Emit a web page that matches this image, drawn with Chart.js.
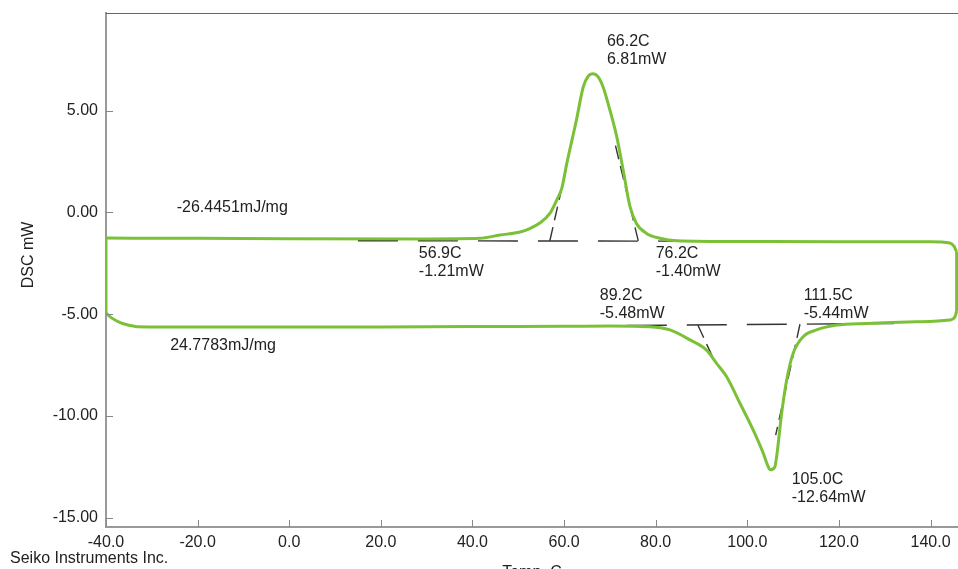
<!DOCTYPE html>
<html>
<head>
<meta charset="utf-8">
<script src="https://cdn.jsdelivr.net/npm/chart.js@4/dist/chart.umd.min.js"></script>
<style>
  body { margin: 0; background: #fff; }
  #wrap { width: 958px; height: 569px; }
</style>
</head>
<body>
<div id="wrap"><canvas id="dscCanvas" width="958" height="569"></canvas></div>
<script>
//Heating run (lower trace), read left to right
const heatTemp = [-40, -38.7, -36.9, -34.8, -33.2, -20, 0, 20, 40, 60, 70, 78.7, 83.1, 87.5, 91.1, 93.3, 95.5, 98.4, 101.3, 103.5, 104.5, 105.0, 106.0, 106.4, 107.5, 108.6, 110.0, 112.2, 115.1, 119.5, 126.0, 136.9, 144.2, 145.3, 145.7]
const heatDsc = [-4.95, -5.19, -5.41, -5.55, -5.61, -5.63, -5.63, -5.62, -5.60, -5.59, -5.58, -5.61, -5.77, -6.26, -6.76, -7.41, -8.07, -9.37, -10.69, -11.83, -12.45, -12.64, -12.5, -12.0, -9.86, -8.23, -6.92, -6.10, -5.77, -5.53, -5.45, -5.37, -5.28, -5.14, -4.84]

//Cooling run (upper trace), read right to left
const coolTemp = [145.7, 145.1, 144.2, 140, 120, 100, 84.6, 80.9, 78.0, 75.8, 74.4, 72.9, 71.5, 70.0, 68.5, 67.4, 66.2, 65.3, 64.2, 62.7, 60.6, 59.5, 58.4, 56.9, 54.7, 52.5, 50.4, 46.0, 41.6, 30, 0, -20, -40]
const coolDsc = [-1.94, -1.65, -1.50, -1.44, -1.44, -1.43, -1.39, -1.27, -1.03, -0.54, 0.28, 2.08, 3.72, 5.03, 6.17, 6.67, 6.81, 6.70, 6.17, 4.54, 2.41, 1.18, 0.61, -0.05, -0.52, -0.79, -0.96, -1.11, -1.27, -1.30, -1.29, -1.27, -1.26]

//Baselines and tangents used for onset / endset
const upperBaseTemp = [15, 85]
const upperBaseDsc = [-1.39, -1.41]
const lowerBaseTemp = [34.4, 132]
const lowerBaseDsc = [-5.62, -5.45]
const upperLeftTanTemp = [56.9, 60.4]
const upperLeftTanDsc = [-1.39, 2.1]
const upperRightTanTemp = [76.2, 71.1]
const upperRightTanDsc = [-1.40, 3.4]
const lowerLeftTanTemp = [89.2, 92.9]
const lowerLeftTanDsc = [-5.53, -7.33]
const lowerRightTanTemp = [111.5, 106.2]
const lowerRightTanDsc = [-5.49, -10.93]

//Axis ticks
const xTicks = [-40, -20, 0, 20, 40, 60, 80, 100, 120, 140]
const yTicks = [5, 0, -5, -10, -15]

//Annotation texts
const noteTexts = [
    ['66.2C', '6.81mW'],
    ['-26.4451mJ/mg'],
    ['56.9C', '-1.21mW'],
    ['76.2C', '-1.40mW'],
    ['89.2C', '-5.48mW'],
    ['111.5C', '-5.44mW'],
    ['24.7783mJ/mg'],
    ['105.0C', '-12.64mW']
]
//where each note sits (temp, mW of first baseline)
const noteAt = [[69.35, 8.15], [-24.57, 0.03], [28.3, -2.25], [80.0, -2.25], [67.8, -4.30], [112.3, -4.30], [-26.0, -6.74], [109.7, -13.35]]


const toPoints = (xs, ys) => xs.map((x, i) => ({x: x, y: ys[i]}))

const heatPoints = toPoints(heatTemp, heatDsc)
const coolPoints = toPoints(coolTemp, coolDsc).reverse()
//isothermal ends that close the loop
const leftEdge = [heatPoints[0], coolPoints[0]]
const rightEdge = [heatPoints[heatPoints.length - 1], coolPoints[coolPoints.length - 1]]

const FONT = '"Liberation Sans", Arial, sans-serif'
const TEXT = '#222'
const GREEN = '#7bc137'

function traceSet(points) {
    return {
        data: points,
        showLine: true,
        borderColor: GREEN,
        borderWidth: 3,
        pointRadius: 0,
        cubicInterpolationMode: 'monotone'
    }
}

function dashSet(xs, ys, dash) {
    return {
        data: toPoints(xs, ys),
        showLine: true,
        borderColor: '#333',
        borderWidth: 1.4,
        borderDash: dash,
        pointRadius: 0,
        tension: 0
    }
}

const extrasPlugin = {
    id: 'extras',
    afterDraw(chart) {
        const ctx = chart.ctx
        const area = chart.chartArea
        const xs = chart.scales.x
        const ys = chart.scales.y
        ctx.save()

        //top frame line
        ctx.strokeStyle = '#666'
        ctx.lineWidth = 1
        ctx.beginPath()
        ctx.moveTo(area.left, area.top + 0.5)
        ctx.lineTo(area.right, area.top + 0.5)
        ctx.stroke()

        //inward tick marks
        ctx.strokeStyle = '#888'
        ctx.beginPath()
        xTicks.forEach(v => {
            const px = Math.round(xs.getPixelForValue(v)) + 0.5
            ctx.moveTo(px, area.bottom)
            ctx.lineTo(px, area.bottom - 7)
        })
        yTicks.forEach(v => {
            const py = Math.round(ys.getPixelForValue(v)) + 0.5
            ctx.moveTo(area.left, py)
            ctx.lineTo(area.left + 7, py)
        })
        ctx.stroke()

        //notes
        ctx.fillStyle = TEXT
        ctx.font = '16px ' + FONT
        ctx.textAlign = 'left'
        ctx.textBaseline = 'alphabetic'
        noteTexts.forEach((lines, i) => {
            const px = xs.getPixelForValue(noteAt[i][0])
            const py = ys.getPixelForValue(noteAt[i][1])
            lines.forEach((t, j) => ctx.fillText(t, px, py + j * 18))
        })

        //axis titles and maker
        ctx.fillText('Seiko Instruments Inc.', 10, 563)
        ctx.textAlign = 'center'
        ctx.fillText('Temp. C', (area.left + area.right) / 2, 577)
        ctx.translate(33, 255)
        ctx.rotate(-Math.PI / 2)
        ctx.fillText('DSC mW', 0, 0)
        ctx.restore()
    }
}

const dscCanvas = document.getElementById('dscCanvas')
const dscChart = new Chart(dscCanvas, {
    type: 'scatter',
    data: {
        datasets: [
            traceSet(heatPoints),
            traceSet(coolPoints),
            traceSet(leftEdge),
            traceSet(rightEdge),
            dashSet(upperBaseTemp, upperBaseDsc, [40, 20]),
            dashSet(lowerBaseTemp, lowerBaseDsc, [40, 20]),
            dashSet(upperLeftTanTemp, upperLeftTanDsc, [14, 7]),
            dashSet(upperRightTanTemp, upperRightTanDsc, [14, 7]),
            dashSet(lowerLeftTanTemp, lowerLeftTanDsc, [14, 7]),
            dashSet(lowerRightTanTemp, lowerRightTanDsc, [14, 7])
        ]
    },
    options: {
        responsive: false,
        animation: false,
        layout: { padding: { top: 13, right: 0, left: 0, bottom: 0 } },
        plugins: {
            legend: { display: false },
            tooltip: { enabled: false }
        },
        scales: {
            x: {
                type: 'linear',
                min: -40,
                max: 146,
                afterBuildTicks: scale => { scale.ticks = xTicks.map(v => ({value: v})) },
                afterFit: scale => { scale.height = 42; scale.paddingLeft = 0; scale.paddingRight = 0 },
                grid: { display: false, drawTicks: false },
                border: { color: '#999', width: 2 },
                ticks: {
                    padding: 6,
                    maxRotation: 0,
                    autoSkip: false,
                    color: TEXT,
                    font: { family: FONT, size: 16 },
                    callback: v => v.toFixed(1)
                }
            },
            y: {
                min: -15.446,
                max: 9.793,
                afterBuildTicks: scale => { scale.ticks = yTicks.map(v => ({value: v})) },
                afterFit: scale => { scale.width = 106; scale.paddingTop = 0; scale.paddingBottom = 0 },
                grid: { display: false, drawTicks: false },
                border: { color: '#999', width: 2 },
                ticks: {
                    padding: 8,
                    autoSkip: false,
                    color: TEXT,
                    font: { family: FONT, size: 16 },
                    callback: v => v.toFixed(2)
                }
            }
        }
    },
    plugins: [extrasPlugin]
})
</script>
</body>
</html>
